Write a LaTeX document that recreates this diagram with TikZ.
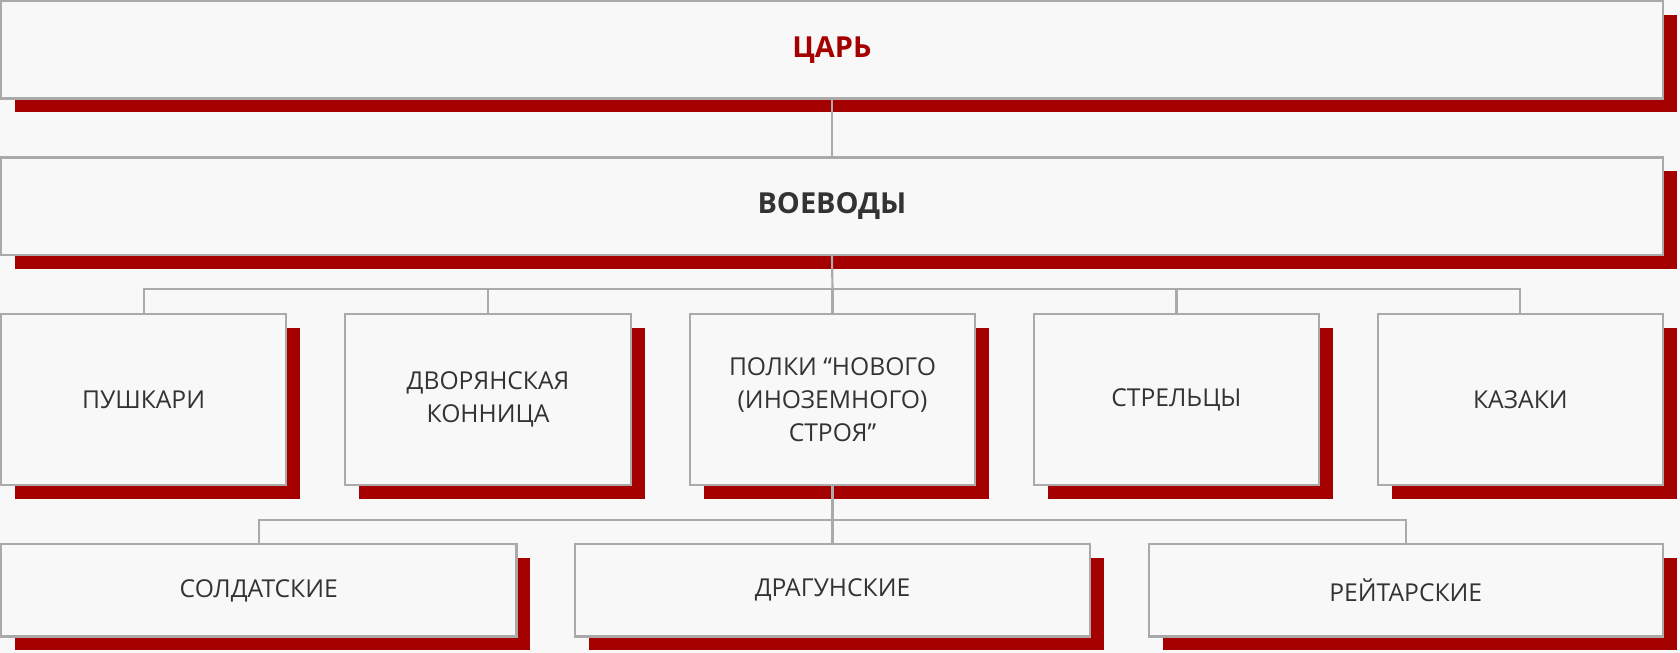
\documentclass[tikz,border=0pt]{standalone}
\usepackage{fontspec}
\setmainfont{Open Sans}[BoldFont={Open Sans Bold}]
\usetikzlibrary{positioning}
\definecolor{shadowred}{HTML}{A50000}
\definecolor{boxgray}{HTML}{AAAAAA}
\definecolor{boxfill}{HTML}{F8F8F8}
\definecolor{txt}{HTML}{333333}
\tikzset{
  unit/.style={draw=boxgray, line width=1pt, fill=boxfill, inner sep=0pt, align=center,
    font=\fontsize{11.5}{15.5}\selectfont, text=txt},
  head/.style={font=\fontsize{13.5}{16}\selectfont\bfseries},
  shadow/.style={fill=shadowred, draw=none},
  link/.style={draw=boxgray, line width=1pt},
}
\newcommand{\unitbox}[7][]{% options, name, x1, y1, x2, y2, text
  \fill[shadow] (#3+13,#4+13) rectangle (#5+13,#6+13);
  \node[unit, #1, minimum width={(#5-#3)*0.5pt}, minimum height={(#6-#4)*0.5pt}]
    (#2) at ({(#3+#5)/2},{(#4+#6)/2}) {#7};}
\begin{document}
\begin{tikzpicture}[x=0.5pt,y=-0.5pt]
\useasboundingbox (0,0) rectangle (1568,609);
\fill[boxfill] (0,0) rectangle (1568,609);
% top levels
\unitbox[head, text=shadowred]{tsar}{1}{1}{1552}{92}{ЦАРЬ}
\unitbox[head]{voevody}{1}{147}{1552}{238}{ВОЕВОДЫ}
% troops
\unitbox{pushkari}{1}{293}{267}{453}{ПУШКАРИ}
\unitbox{dvor}{322}{293}{589}{453}{ДВОРЯНСКАЯ\\КОННИЦА}
\unitbox{polki}{644}{293}{910}{453}{ПОЛКИ “НОВОГО\\(ИНОЗЕМНОГО)\\СТРОЯ”}
\unitbox{streltsy}{965}{293}{1231}{453}{СТРЕЛЬЦЫ}
\unitbox{kazaki}{1286}{293}{1552}{453}{КАЗАКИ}
% new regiments
\unitbox{soldat}{1}{508}{482}{594}{СОЛДАТСКИЕ}
\unitbox{dragun}{537}{508}{1017}{594}{ДРАГУНСКИЕ}
\unitbox{reitar}{1072}{508}{1552}{594}{РЕЙТАРСКИЕ}
% connectors
\draw[link] (tsar.south) -- (voevody.north);
\coordinate (bus1) at (777,270);
\draw[link] (voevody.south) -- (bus1);
\draw[link] (pushkari.north) |- (bus1) -| (kazaki.north);
\draw[link] (dvor.north) |- (bus1) -| (streltsy.north);
\draw[link] (bus1) -- (polki.north);
\coordinate (bus2) at (777,485);
\draw[link] (polki.south) -- (bus2);
\draw[link] (soldat.north) |- (bus2) -| (reitar.north);
\draw[link] (bus2) -- (dragun.north);
\end{tikzpicture}
\end{document}
